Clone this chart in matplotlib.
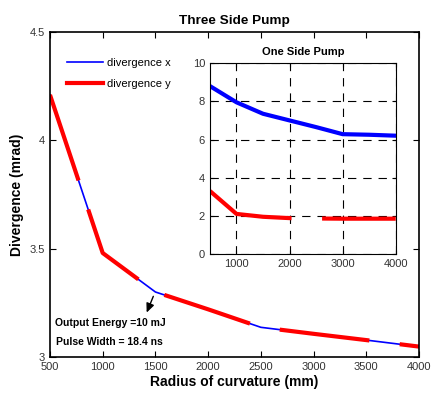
import matplotlib
matplotlib.use('Agg')
import matplotlib.pyplot as plt

plt.rcParams['font.family'] = ['Liberation Sans', 'DejaVu Sans']
plt.rcParams['lines.scale_dashes'] = False

# Three side pump (main)
radius = [500, 1000, 1500, 2000, 2500, 3000, 3500, 4000]
div_x_three = [4.21, 3.48, 3.30, 3.22, 3.137, 3.107, 3.078, 3.048]
div_y_three = [4.21, 3.48, 3.30, 3.22, 3.137, 3.107, 3.078, 3.048]

# One side pump (inset)
div_x_one = [8.8, 7.95, 7.35, 7.0, 6.65, 6.28, 6.25, 6.2]
div_y_one = [3.3, 2.1, 1.95, 1.88, 1.86, 1.85, 1.85, 1.85]

dash = (65, 22)

fig = plt.figure(figsize=(4.32, 3.95), dpi=100)
ax = fig.add_axes([0.1157, 0.0962, 0.8543, 0.8228])
ax.plot(radius, div_x_three, color='blue', lw=1.2, label='divergence x')
ax.plot(radius, div_y_three, color='red', lw=3, dashes=dash,
        label='divergence y')
ax.set_xlim(500, 4000)
ax.set_ylim(3, 4.5)
ax.set_xticks(range(500, 4001, 500))
ax.set_yticks([3, 3.5, 4, 4.5])
ax.set_yticklabels(['3', '3.5', '4', '4.5'])
ax.tick_params(direction='in', top=True, right=True, labelsize=8, length=4,
               labelcolor='#333333')
for s in ax.spines.values():
    s.set_linewidth(1.2)
ax.set_xlabel('Radius of curvature (mm)', fontsize=10, fontweight='bold',
              labelpad=2)
ax.set_ylabel('Divergence (mrad)', fontsize=10, fontweight='bold',
              labelpad=4)
ax.set_title('Three Side Pump', fontsize=9.7, fontweight='bold', pad=6)
leg = ax.legend(loc='upper left', bbox_to_anchor=(0.02, 0.95), frameon=False,
                fontsize=8, handlelength=3.2, handletextpad=0.4,
                labelspacing=0.95)
leg.get_lines()[1].set_dashes((None, None))
leg.get_lines()[1].set_linestyle('-')

ax.annotate('', xy=(1417, 3.205), xytext=(1480, 3.28),
            arrowprops=dict(arrowstyle='-|>,head_length=0.45,head_width=0.2',
                            color='black', lw=1, mutation_scale=12,
                            shrinkA=0, shrinkB=0))
ax.text(545, 3.155, 'Output Energy =10 mJ', fontsize=7.5, fontweight='bold',
        va='center')
ax.text(560, 3.068, 'Pulse Width = 18.4 ns', fontsize=7.5, fontweight='bold',
        va='center')

ins = fig.add_axes([0.486, 0.357, 0.430, 0.483])
ins.plot(radius, div_x_one, color='blue', lw=3)
ins.plot(radius, div_y_one, color='red', lw=3, dashes=dash)
ins.set_xlim(500, 4000)
ins.set_ylim(0, 10)
ins.set_xticks([1000, 2000, 3000, 4000])
ins.set_yticks([0, 2, 4, 6, 8, 10])
ins.grid(True, color='black', linestyle=(0, (6, 5)), lw=0.8)
ins.tick_params(direction='in', top=True, right=True, labelsize=8, length=3,
                labelcolor='#333333')
ins.set_title('One Side Pump', fontsize=8, fontweight='bold', pad=6)

fig.savefig('out.png', dpi=100)
